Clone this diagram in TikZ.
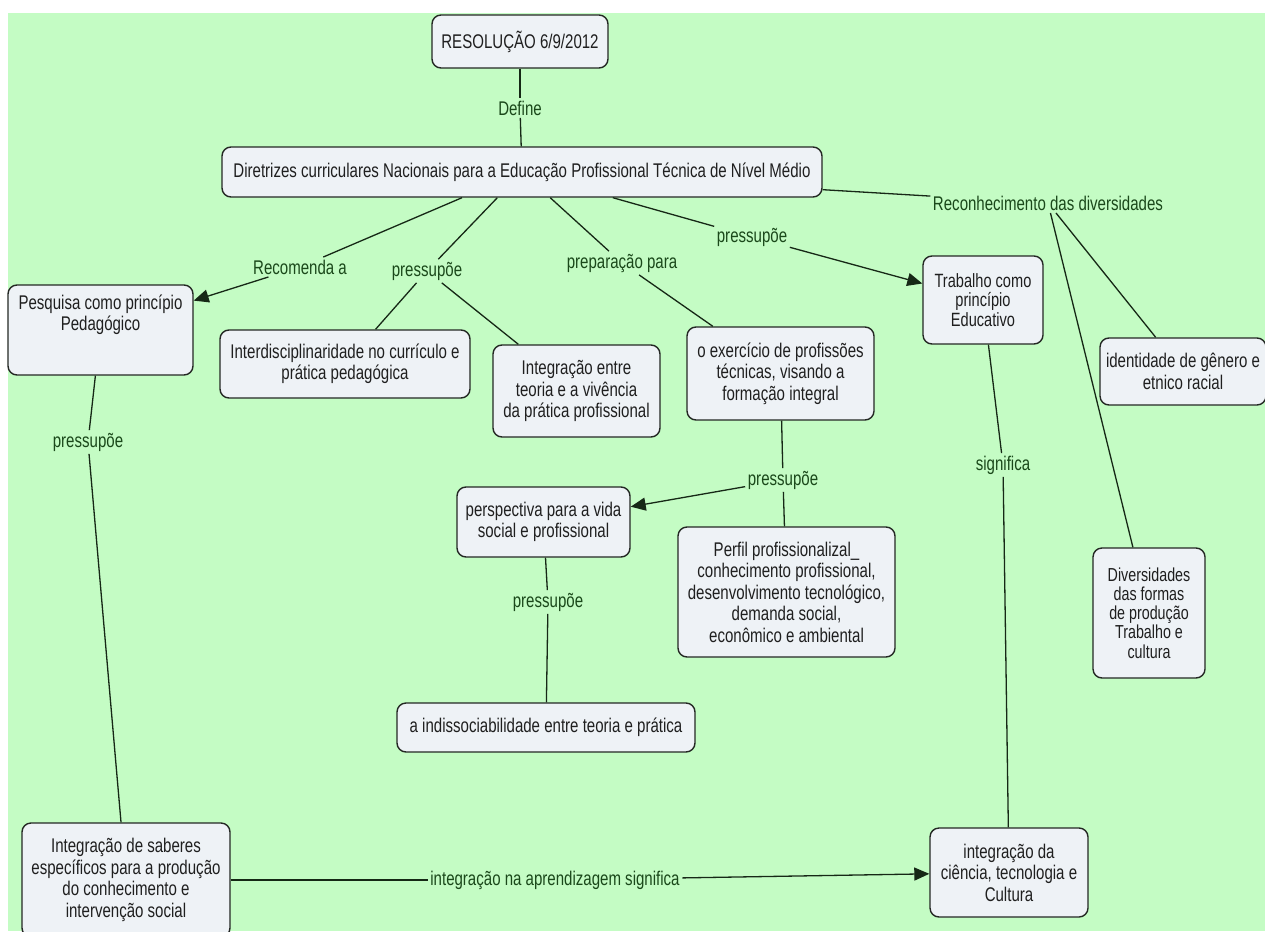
\documentclass[tikz,border=0pt]{standalone}
\usepackage{fontspec}
\setmainfont[FakeStretch=0.76]{Liberation Sans}
\usetikzlibrary{arrows.meta}
\definecolor{mapbg}{RGB}{196,252,196}
\definecolor{boxfill}{RGB}{238,242,246}
\definecolor{boxline}{RGB}{36,40,36}
\definecolor{linkline}{RGB}{22,40,22}
\definecolor{linktext}{RGB}{26,72,26}
\begin{document}
\begin{tikzpicture}[x=1pt,y=-1pt,
  concept/.style={draw=boxline, line width=1.4pt, fill=boxfill, rounded corners=9pt,
    align=center, inner sep=0pt, text=black!88, font=\fontsize{19.8}{21.5}\selectfont},
  toptext/.style={anchor=north, inner sep=0pt, align=center, yshift=-10pt,
    text=black!88, font=\fontsize{19.8}{21.5}\selectfont},
  linkword/.style={text=linktext, inner sep=2.5pt, font=\fontsize{19.8}{21.5}\selectfont},
  link/.style={draw=linkline, line width=1.3pt},
  tolink/.style={link, -{Triangle[length=15pt,width=13pt]}}
]
\useasboundingbox (0,0) rectangle (1265,931);
\clip (0,0) rectangle (1265,931);
\fill[white] (0,0) rectangle (1265,931);
\fill[mapbg] (8,13) rectangle (1265,931);

% concepts
\node[concept, minimum width=176pt, minimum height=53pt] (res) at (520,41.5) {RESOLUÇÃO 6/9/2012};
\node[concept, minimum width=600pt, minimum height=50pt] (dir) at (522,172) {Diretrizes curriculares Nacionais para a Educação Profissional Técnica de Nível Médio};
\node[concept, minimum width=185pt, minimum height=90pt,
  label={[toptext]north:Pesquisa como princípio\\Pedagógico}] (pesq) at (100.5,330) {};
\node[concept, minimum width=250pt, minimum height=68pt] (inter) at (345,364) {Interdisciplinaridade no currículo e\\prática pedagógica};
\node[concept, minimum width=167pt, minimum height=92pt] (integ) at (576.5,391) {Integração entre\\teoria e a vivência\\da prática profissional};
\node[concept, minimum width=187pt, minimum height=93pt] (exer) at (780.5,373.5) {o exercício de profissões\\técnicas, visando a\\formação integral};
\node[concept, minimum width=120pt, minimum height=88pt, font=\fontsize{19.2}{19.5}\selectfont] (trab) at (983,300) {Trabalho como\\princípio\\Educativo};
\node[concept, minimum width=166pt, minimum height=67pt] (ident) at (1183,371.5) {identidade de gênero e\\etnico racial};
\node[concept, minimum width=173pt, minimum height=70pt] (persp) at (543.5,522) {perspectiva para a vida\\social e profissional};
\node[concept, minimum width=217pt, minimum height=130pt] (perfil) at (786.5,592) {Perfil profissionalizal\_\\conhecimento profissional,\\desenvolvimento tecnológico,\\demanda social,\\econômico e ambiental};
\node[concept, minimum width=298pt, minimum height=49pt] (indis) at (546,727.5) {a indissociabilidade entre teoria e prática};
\node[concept, minimum width=112pt, minimum height=130pt, font=\fontsize{18.8}{19.2}\selectfont] (divers) at (1149,613) {Diversidades\\das formas\\de produção\\Trabalho e\\cultura};
\node[concept, minimum width=208pt, minimum height=114pt] (saber) at (126,880) {Integração de saberes\\específicos para a produção\\do conhecimento e\\intervenção social};
\node[concept, minimum width=158pt, minimum height=89pt] (cienc) at (1009,872.5) {integração da\\ciência, tecnologia e\\Cultura};

% linking words
\node[linkword] (define) at (520,108) {Define};
\node[linkword] (recom) at (300,267) {Recomenda a};
\node[linkword] (pressL) at (427,271) {pressupõe};
\node[linkword] (prep) at (622,263) {preparação para};
\node[linkword] (pressR) at (752,237) {pressupõe};
\node[linkword] (recon) at (1048,203) {Reconhecimento das diversidades};
\node[linkword] (signif) at (1003,465) {significa};
\node[linkword] (pressE) at (783,480) {pressupõe};
\node[linkword] (pressP) at (548,602) {pressupõe};
\node[linkword] (pressQ) at (88,442) {pressupõe};
\node[linkword] (integL) at (555,880) {integração na aprendizagem significa};

% connections
\draw[link] (res) -- (define);
\draw[link] (define) -- (dir);
\draw[link] (dir) -- (recom);
\draw[tolink] (recom) -- (pesq);
\draw[link] (dir) -- (pressL);
\draw[link] (pressL) -- (inter);
\draw[link] (pressL) -- (integ);
\draw[link] (dir) -- (prep);
\draw[link] (prep) -- (exer);
\draw[link] (dir) -- (pressR);
\draw[tolink] (pressR) -- (trab);
\draw[link] (dir) -- (recon);
\draw[link] (recon) -- (ident);
\draw[link] (recon) -- (divers);
\draw[link] (trab) -- (signif);
\draw[link] (signif) -- (cienc);
\draw[link] (exer) -- (pressE);
\draw[link] (pressE) -- (perfil);
\draw[tolink] (pressE) -- (persp);
\draw[link] (persp) -- (pressP);
\draw[link] (pressP) -- (indis);
\draw[link] (pesq) -- (pressQ);
\draw[link] (pressQ) -- (saber);
\draw[link] (saber) -- (integL);
\draw[tolink] (integL) -- (cienc);
\end{tikzpicture}
\end{document}
